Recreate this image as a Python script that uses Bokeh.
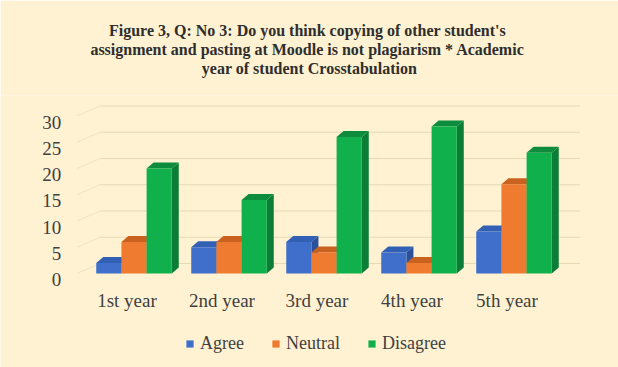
from bokeh.plotting import figure
from bokeh.models import Range1d, Legend, LegendItem, Title
from bokeh.core.properties import value
from bokeh.embed import file_html
from bokeh.resources import INLINE

# ---------------- data ----------------
categories = ["1st year", "2nd year", "3rd year", "4th year", "5th year"]
series_names = ["Agree", "Neutral", "Disagree"]
agree = [2, 5, 6, 4, 8]
neutral = [6, 6, 4, 2, 17]
disagree = [20, 14, 26, 28, 23]
y_ticks = [0, 5, 10, 15, 20, 25, 30]
title_lines = [
    "Figure 3, Q: No 3: Do you think  copying of other student's",
    "assignment and pasting at Moodle is not plagiarism  * Academic",
    "year of student Crosstabulation",
]

# ---------------- style ----------------
BG = "#FFF2D2"
TEXT = "#404040"
GRID = "#E6D9B6"
FONT = "Liberation Serif"
front_colors = ["#3F6FCB", "#EE7B2F", "#10B14C"]
side_colors = ["#2B519C", "#B8591C", "#0A7E36"]
top_colors = ["#3160B4", "#C9621F", "#0C8C3C"]

PX_X = 95.0   # pixels per category step
PX_Y = 5.25   # pixels per value unit
W = 0.265     # bar width (category units)
DX, DY = 7 / PX_X, 6 / PX_Y          # bar depth
DXB, DYB = 23 / PX_X, 10 / PX_Y      # back wall offset
FLOOR_L, FLOOR_R = -0.6, 4.45

p = figure(width=618, height=367,
           x_range=Range1d(-1.4053, 5.1), y_range=Range1d(-17.905, 33.905),
           x_axis_location=None, y_axis_location=None,
           min_border_top=95, min_border_left=0, min_border_right=0, min_border_bottom=0,
           background_fill_color=BG, border_fill_color=BG, outline_line_color=None,
           output_backend="svg", toolbar_location=None)
p.grid.visible = False

def style_title(t, standoff, size="16px"):
    t.align = "center"
    t.text_font = FONT
    t.text_font_size = size
    t.text_font_style = "bold"
    t.text_color = "#2E2E2E"
    t.offset = 7
    t.standoff = standoff

# p.title sits farthest from the plot; added titles stack outward from the plot
p.title.text = title_lines[0]
style_title(p.title, 0)
spacer = Title(text=" ")
style_title(spacer, 15, size="2px")
p.add_layout(spacer, "above")
t3 = Title(text=title_lines[2])
style_title(t3, 0)
p.add_layout(t3, "above")
t2 = Title(text=title_lines[1])
style_title(t2, 0)
p.add_layout(t2, "above")

# back wall gridlines and left wall diagonals
p.segment(x0=[FLOOR_L + DXB] * len(y_ticks), y0=[v + DYB for v in y_ticks],
          x1=[FLOOR_R + DXB] * len(y_ticks), y1=[v + DYB for v in y_ticks],
          line_color=GRID, line_width=1)
p.segment(x0=[FLOOR_L] * len(y_ticks), y0=y_ticks,
          x1=[FLOOR_L + DXB] * len(y_ticks), y1=[v + DYB for v in y_ticks],
          line_color=GRID, line_width=1, line_alpha=0.6)

legend_items = []
for s, vals in enumerate([agree, neutral, disagree]):
    lefts = [i + (s - 1) * W - W / 2 for i in range(len(categories))]
    rights = [l + W for l in lefts]
    side_xs = [[r, r + DX, r + DX, r] for r in rights]
    side_ys = [[0, DY, v + DY, v] for v in vals]
    top_xs = [[l, r, r + DX, l + DX] for l, r in zip(lefts, rights)]
    top_ys = [[v, v, v + DY, v + DY] for v in vals]
    p.patches(xs=side_xs, ys=side_ys, fill_color=side_colors[s], line_color=None)
    p.patches(xs=top_xs, ys=top_ys, fill_color=top_colors[s], line_color=None)
    r = p.quad(left=lefts, right=rights, bottom=0, top=vals,
               fill_color=front_colors[s], line_color=None)
    legend_items.append(LegendItem(label=series_names[s], renderers=[r]))

# y tick labels
p.text(x=[FLOOR_L - 0.165] * len(y_ticks), y=y_ticks, text=[str(v) for v in y_ticks],
       text_align="right", text_baseline="middle", y_offset=6,
       text_font=value(FONT), text_font_size="19px", text_color=TEXT)
# category labels
p.text(x=[i - 0.074 for i in range(len(categories))], y=[0] * len(categories), text=categories,
       text_align="center", text_baseline="middle", y_offset=27,
       text_font=value(FONT), text_font_size="19px", text_color=TEXT)

legend = Legend(items=legend_items, orientation="horizontal", location=(185, 13),
                glyph_width=9, glyph_height=9, label_standoff=6, spacing=27,
                padding=0, margin=0, background_fill_alpha=0, border_line_color=None,
                label_text_font=FONT, label_text_font_size="18px", label_text_color=TEXT)
p.add_layout(legend)

open("out.html", "w").write(file_html(p, INLINE))
